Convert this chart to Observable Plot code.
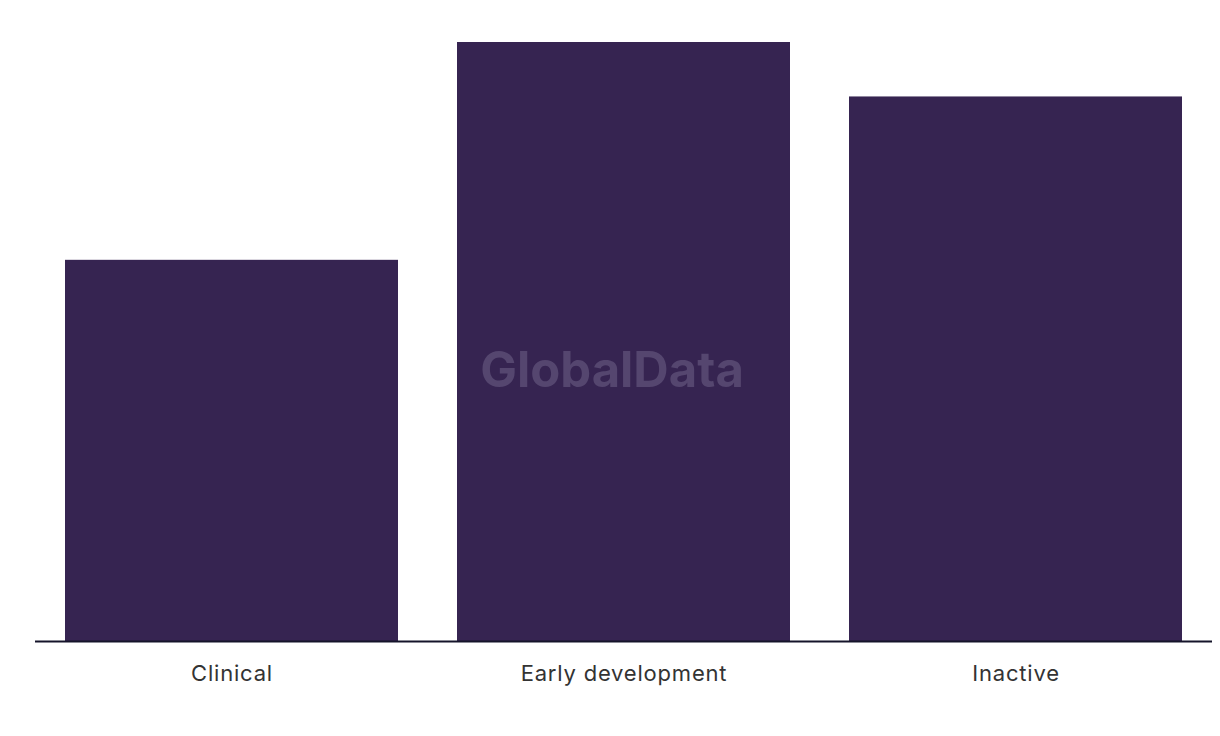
<!DOCTYPE html>
<html>
<head>
<meta charset="utf-8">
<script src="https://cdn.jsdelivr.net/npm/d3@7"></script>
<script src="https://cdn.jsdelivr.net/npm/@observablehq/plot@0.6"></script>
<style>
  html, body { margin: 0; padding: 0; background: #fff; }
  #chart { width: 1220px; height: 736px; }
  #chart svg g[aria-label="x-axis tick label"] text { letter-spacing: 0.8px; }
</style>
</head>
<body>
<div id="chart"></div>
<script>
const categories = ["Clinical", "Early development", "Inactive"];
const values = [7, 11, 10];
const data = categories.map((c, i) => ({stage: c, count: values[i]}));

const chart = Plot.plot({
  width: 1220,
  height: 736,
  marginLeft: 35,
  marginRight: 8,
  marginTop: 42,
  marginBottom: 95,
  style: {fontFamily: "Inter, 'Noto Sans', sans-serif", background: "#fff"},
  x: {domain: categories, paddingInner: 0.15, paddingOuter: 0.075, label: null},
  y: {domain: [0, 11], axis: null},
  marks: [
    Plot.barY(data, {x: "stage", y: "count", fill: "#362451"}),
    Plot.ruleY([0], {stroke: "#15142a", strokeWidth: 2}),
    Plot.text(["GlobalData"], {frameAnchor: "middle", dx: -12, dy: 29, fontSize: 49, fontWeight: "bold", fill: "#55466f", text: d => d}),
    Plot.axisX({tickSize: 0, tickPadding: 24, fontSize: 22, color: "#333", label: null})
  ]
});
document.getElementById("chart").append(chart);
</script>
</body>
</html>
